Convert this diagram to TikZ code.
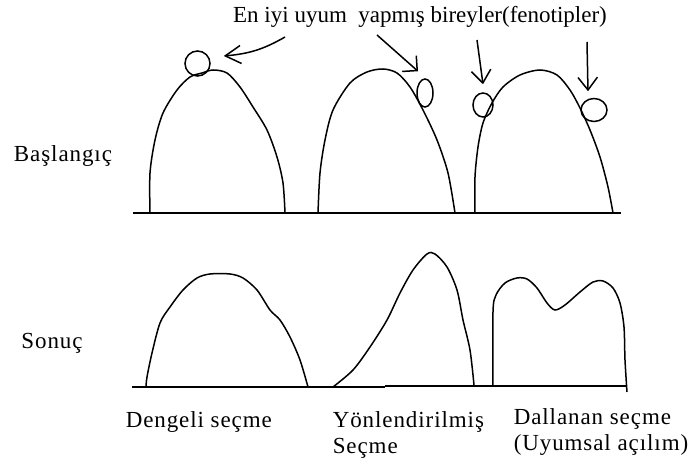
\documentclass[tikz,border=0pt]{standalone}
\usepackage{fontspec}
\setmainfont{Liberation Serif}
\newfontfamily\widefont{Liberation Serif}[LetterSpace=4]
\usetikzlibrary{arrows.meta,shapes.geometric}
\begin{document}
\begin{tikzpicture}[x=0.5pt, y=0.5pt, line width=0.75pt,
    lbl/.style={font=\widefont\fontsize{11.5}{13}\selectfont, inner sep=0pt},
    arr/.style={-{Straight Barb[angle=75:8pt]}},
    blob/.style={draw, circle, inner sep=0pt, minimum size=#1},
    egg/.style 2 args={draw, ellipse, inner sep=0pt, minimum width=#1, minimum height=#2}]
    \useasboundingbox (0,0) rectangle (692,466);
    \node[font=\fontsize{11.5}{13}\selectfont] (title) at (420,449) {En iyi uyum\ \ yapmış bireyler(fenotipler)};
    \node[lbl] (start) at (63,310) {Başlangıç};
    \node[lbl] (result) at (52,123) {Sonuç};
    % Başlangıç
    \draw[line width=1pt] (133,253) -- (621,253);
    \draw plot[smooth] coordinates {(150,253) (150,293) (155,326) (163,353) (177,376) (190,389) (202,393) (213,396) (227,393) (240,379) (253,359) (267,336) (277,309) (283,283) (285,253)};
    \draw plot[smooth] coordinates {(318,253) (320,293) (325,326) (333,356) (350,383) (367,394) (383,397) (397,393) (410,379) (423,356) (437,326) (448,293) (455,253)};
    \draw plot[smooth] coordinates {(475,253) (475,289) (478,319) (483,343) (492,363) (503,379) (520,391) (540,396) (557,391) (570,376) (580,358) (590,336) (600,309) (608,279) (613,253)};
    \node[blob=12.5pt] (c1) at (197.5,402.5) {};
    \node[egg={8pt}{14pt}] (e2) at (425,373) {};
    \node[egg={10pt}{12pt}] (e3) at (483,361) {};
    \node[egg={13pt}{11.5pt}] (c4) at (594,356) {};
    \coordinate (a1) at (285,429);
    \coordinate (a2) at (377,431);
    \coordinate (a3) at (477,426);
    \coordinate (a4) at (587,424);
    \draw[-{Straight Barb[angle=60:9pt]}] (a1) to[out=210,in=5] ([shift={(13,7.5)}]c1.east);
    \draw[-{Straight Barb[angle=90:7.5pt]}] (a2) -- ([shift={(-7,7)}]e2.north);
    \draw[arr] (a3) -- ([shift={(0,8)}]e3.north);
    \draw[arr] (a4) -- ([shift={(-6,6.5)}]c4.north);
    % Sonuç
    \draw[line width=1pt] (132,78.7) -- (385,78.7);
    \draw[line width=1pt] (385,80.3) -- (627,80.3);
    \draw plot[smooth] coordinates {(146,79) (147,89) (152,113) (160,143) (170,159) (183,176) (197,188) (210,192) (230,192) (243,188) (257,176) (270,156) (280,146) (290,129) (300,106) (308,79)};
    \draw plot[smooth] coordinates {(333,79) (353,96) (370,119) (387,146) (400,173) (413,196) (427,212) (435,212) (447,199) (457,176) (463,146) (470,116) (474,81)};
    \draw plot[smooth] coordinates {(493,80) (493,154) (496,171) (505,183) (517,188) (527,187) (537,178) (547,163) (555,156) (565,161) (580,174) (593,184) (603,185) (613,178) (620,163) (624,139) (625,106) (627,74)};
    \node[lbl, anchor=base west] (stab) at (125,38) {Dengeli seçme};
    \node[lbl, anchor=base west, align=left] (dir) at (332,12) {Yönlendirilmiş\\Seçme};
    \node[lbl, anchor=base west, align=left] (disr) at (513,15) {Dallanan seçme\\(Uyumsal açılım)};
\end{tikzpicture}
\end{document}
